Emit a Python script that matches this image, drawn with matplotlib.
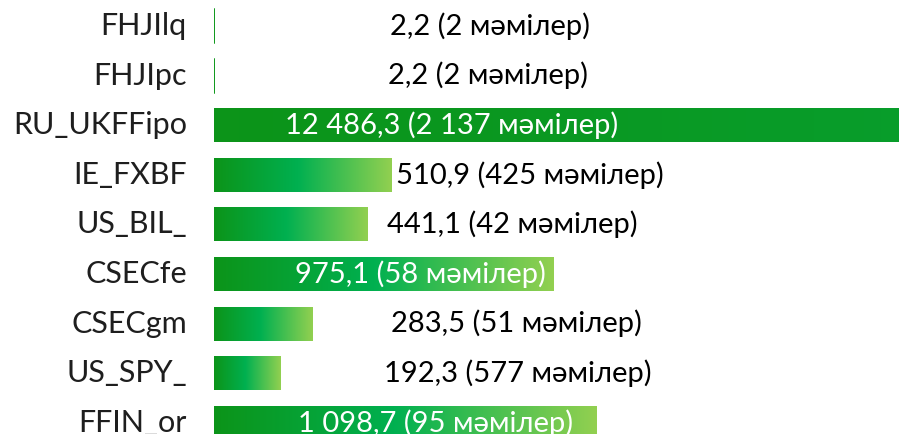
import matplotlib
matplotlib.use("Agg")
import matplotlib.pyplot as plt
import numpy as np
from matplotlib.colors import LinearSegmentedColormap
from matplotlib.patches import Rectangle

categories = ["FHJIlq", "FHJIpc", "RU_UKFFipo", "IE_FXBF", "US_BIL_",
              "CSECfe", "CSECgm", "US_SPY_", "FFIN_or"]
values = [2.2, 2.2, 12486.3, 510.9, 441.1, 975.1, 283.5, 192.3, 1098.7]
deals = ["2", "2", "2 137", "425", "42", "58", "51", "577", "95"]
value_text = ["2,2", "2,2", "12 486,3", "510,9", "441,1", "975,1", "283,5", "192,3", "1 098,7"]

# layout: label centers (data units) and whether label sits inside the bar
label_x = [794, 788, 684, 909, 857, 595, 871, 874, 636]
inside = [False, False, True, False, False, True, False, False, True]

W, H = 899, 434
fig = plt.figure(figsize=(W / 100, H / 100), dpi=100)
ax = fig.add_axes([214 / W, 0, 1 - 214 / W, 1])
xmax = 1970
pitch = 49.6
top_c = 26
ax.set_xlim(0, xmax)
ax.set_ylim((H - top_c) / pitch, -top_c / pitch)
ax.axis("off")

cmap = LinearSegmentedColormap.from_list(
    "g", [(0, "#0c9419"), (0.47, "#00b050"), (1, "#92d050")])
grad = np.linspace(0, 1, 256).reshape(1, -1)
bh = 34 / pitch

for i, v in enumerate(values):
    rect = Rectangle((0, i - bh / 2), v, bh, facecolor="none", edgecolor="none")
    ax.add_patch(rect)
    im = ax.imshow(grad, cmap=cmap, aspect="auto",
                   extent=(0, v, i + bh / 2, i - bh / 2), interpolation="bilinear")
    im.set_clip_path(rect)
    if v < 10:
        ax.plot([0, 0], [i - bh / 2, i + bh / 2], color="#0c9419", lw=1.2)
    ax.text(label_x[i], i, f"{value_text[i]} ({deals[i]} мәмілер)",
            ha="center", va="center", fontsize=21,
            color="white" if inside[i] else "black",
            family=["Lato", "DejaVu Sans"])
    ax.text(-78, i, categories[i], ha="right", va="center", fontsize=22,
            color="#1e1e1e", family=["Lato", "DejaVu Sans"],
            clip_on=False)

ax.set_xlim(0, xmax)
ax.set_ylim((H - top_c) / pitch, -top_c / pitch)
fig.savefig("out.png", dpi=100)
